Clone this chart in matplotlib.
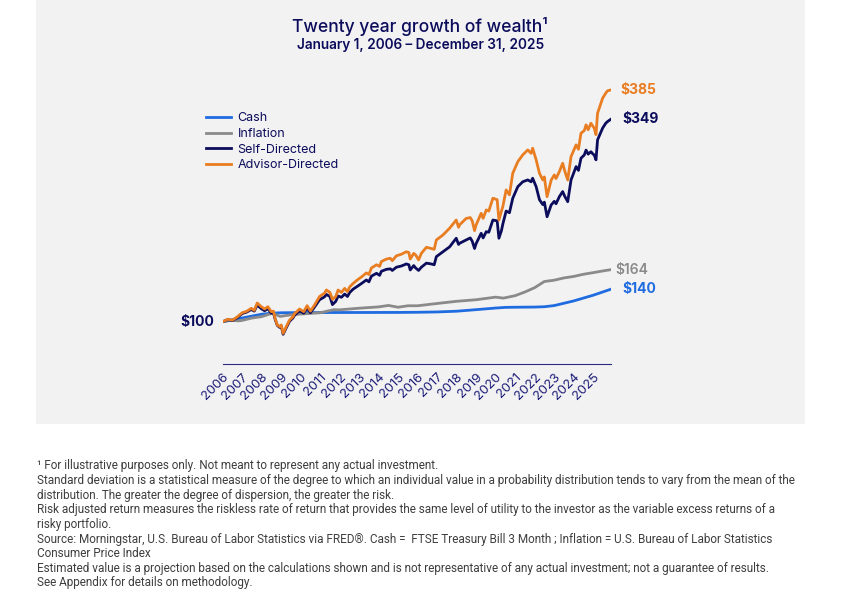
import matplotlib
matplotlib.use("Agg")
import matplotlib.pyplot as plt
from matplotlib.patches import Rectangle

# data (growth of $100, year as decimal)
risk_years = [2006.00, 2006.25, 2006.50, 2006.75, 2007.00, 2007.25, 2007.46, 2007.62, 2007.77, 2007.98,
              2008.15, 2008.32, 2008.49, 2008.60, 2008.69, 2008.80, 2008.92, 2009.00, 2009.10, 2009.26,
              2009.43, 2009.60, 2009.69, 2009.94, 2010.16, 2010.33, 2010.50, 2010.71, 2010.97, 2011.22,
              2011.32, 2011.50, 2011.63, 2011.80, 2011.92, 2012.09, 2012.26, 2012.40, 2012.52, 2012.69,
              2012.94, 2013.12, 2013.37, 2013.50, 2013.63, 2013.89, 2014.05, 2014.14, 2014.40, 2014.60,
              2014.70, 2014.91, 2015.17, 2015.42, 2015.55, 2015.62, 2015.80, 2015.90, 2016.05, 2016.19,
              2016.45, 2016.70, 2016.85, 2016.96, 2017.30, 2017.64, 2017.98, 2018.10, 2018.15, 2018.49,
              2018.70, 2018.80, 2018.92, 2019.00, 2019.26, 2019.36, 2019.52, 2019.65, 2019.86, 2020.08,
              2020.17, 2020.30, 2020.37, 2020.54, 2020.71, 2020.88, 2021.14, 2021.39, 2021.65, 2021.82,
              2021.90, 2022.08, 2022.25, 2022.42, 2022.50, 2022.64, 2022.85, 2023.01, 2023.10, 2023.27,
              2023.44, 2023.55, 2023.70, 2023.87, 2024.13, 2024.25, 2024.38, 2024.55, 2024.64, 2024.75,
              2024.89, 2025.00, 2025.06, 2025.15, 2025.23, 2025.49, 2025.65, 2025.74, 2025.92]
advisor = [100, 103, 102, 106, 111, 113, 116.5, 114, 123, 118.5,
           115.6, 118.5, 112.3, 113, 104, 96, 94, 96, 85.7, 94,
           102, 106, 110, 115.6, 112.3, 119.7, 113, 120.5, 131, 135,
           139, 136, 127.5, 131, 139, 136, 141, 137, 143, 147,
           152, 155, 160, 158, 166, 170, 168, 174, 177, 178,
           175, 181, 183, 186, 185, 177, 184, 182, 176, 184,
           191.5, 190, 189, 200.5, 206.6, 214.9, 225, 216, 219, 227,
           228, 224, 212, 219, 233.3, 227, 237.4, 236, 251.8, 250,
           225, 236, 241.4, 262, 256, 282.5, 296.8, 305, 311.2, 307,
           313.3, 299, 282.5, 274.3, 278, 253.7, 274, 280.4, 276, 284.5,
           294.8, 285, 274.3, 303, 317.4, 312, 331.7, 335, 342, 336,
           344, 340, 337.9, 330, 356.3, 374.8, 381, 383.8, 385]
self_directed = [100, 102.5, 101.5, 105, 110, 112, 115, 113, 120.5, 116,
                 113.5, 116, 110.5, 111, 103, 95.5, 93, 95, 84.5, 92.5,
                 100.5, 104.5, 108, 113.5, 110.5, 117, 111, 118, 127, 130.5,
                 133.5, 131, 121, 125, 131.6, 130, 134, 131, 136, 140,
                 144, 147, 151.3, 149, 156, 159.5, 157, 162, 164.4, 165,
                 163, 167, 168.5, 171, 170, 163.6, 169, 166, 163, 167,
                 172, 171, 170, 180, 186, 192, 202.6, 195, 196.4, 200.5,
                 203, 199, 190, 196, 208.7, 203, 210.7, 210, 225, 224,
                 202.6, 212, 220, 236, 234, 251.8, 266, 272, 274.3, 272,
                 276.4, 266, 250, 244, 247, 229, 243.5, 248, 245, 253.7,
                 260, 254, 247.6, 274.3, 290.7, 286, 301, 305, 311, 306,
                 309, 306, 305, 299, 323.5, 338, 344, 346, 349]

cash_years = [2006.0, 2007.0, 2008.0, 2008.5, 2009.0, 2010.0, 2012.0, 2015.0, 2016.0, 2017.0,
              2018.0, 2019.0, 2020.0, 2020.5, 2021.0, 2022.0, 2022.5, 2023.0, 2024.0, 2025.0, 2025.92]
cash = [100, 104.6, 109.2, 110.5, 111.0, 111.2, 111.3, 111.4, 111.6, 112.0,
        112.9, 114.8, 116.8, 117.6, 117.8, 118.0, 118.4, 119.8, 125.5, 132.5, 140]

infl_years = [2006.0, 2006.4, 2006.8, 2007.0, 2007.5, 2008.0, 2008.55, 2008.95, 2009.5, 2010.0,
              2011.0, 2011.7, 2012.0, 2013.0, 2014.0, 2014.5, 2015.0, 2015.5, 2016.0, 2017.0,
              2018.0, 2019.0, 2020.0, 2020.4, 2021.0, 2021.5, 2022.0, 2022.5, 2023.0, 2023.5,
              2024.0, 2024.5, 2025.0, 2025.5, 2025.92]
inflation = [100, 101.8, 101.0, 101.6, 104.5, 106.2, 110.5, 106.5, 108.5, 109.4,
             111.0, 114.8, 114.6, 116.6, 118.2, 120.0, 117.8, 119.6, 119.6, 122.4,
             125.1, 127.0, 130.2, 129.0, 132.0, 136.5, 141.8, 149.4, 151.0, 153.8,
             155.6, 158.3, 160.3, 162.4, 164]

year_ticks = list(range(2006, 2026))

navy = "#0c0c5c"
orange = "#e97d22"
blue = "#1f6be0"
gray = "#8a8a8a"

fig = plt.figure(figsize=(8.41, 6.16), dpi=100)
panel = Rectangle((36 / 841, 1 - 424 / 616), 769 / 841, 424 / 616,
                  transform=fig.transFigure, facecolor="#f2f2f2", edgecolor="none")
panel.set_zorder(-10)
fig.add_artist(panel)

fig.text(420 / 841, 1 - 26 / 616, "Twenty year growth of wealth\u00b9", ha="center", va="center",
         fontsize=12.6, color=navy, family="Inter", fontweight="medium")
fig.text(421 / 841, 1 - 45 / 616, "January 1, 2006 \u2013 December 31, 2025", ha="center", va="center",
         fontsize=9.8, color=navy, family="Inter", fontweight="semibold")

ax = fig.add_axes([222.7 / 841, 1 - 364 / 616, 388.3 / 841, 279 / 616])
ax.set_zorder(2)
ax.set_facecolor("none")
ax.plot(cash_years, cash, color=blue, lw=2, label="Cash")
ax.plot(infl_years, inflation, color=gray, lw=2, label="Inflation")
ax.plot(risk_years, self_directed, color=navy, lw=2, label="Self-Directed")
ax.plot(risk_years, advisor, color=orange, lw=2, label="Advisor-Directed")

ax.set_xlim(2006, 2025.92)
ax.set_ylim(48, 391)
for s in ["top", "right", "left"]:
    ax.spines[s].set_visible(False)
ax.spines["bottom"].set_color("#2b2b80")
ax.spines["bottom"].set_linewidth(0.8)
ax.set_yticks([])
ax.set_xticks(year_ticks)
ax.set_xticklabels([str(y) for y in year_ticks], rotation=45, ha="right",
                   rotation_mode="anchor", fontsize=9.4, color="#1c1c78", family="Inter")
ax.tick_params(axis="x", length=0, pad=5)

ends = [(advisor[-1], "$385", orange, 7, "bold"),
        (self_directed[-1], "$349", navy, 8, "bold"),
        (inflation[-1], "$164", gray, 3, "semibold"),
        (cash[-1], "$140", blue, 8, "bold")]
for val, txt, col, dx, wt in ends:
    ax.annotate(txt, xy=(risk_years[-1], val), xytext=(dx, 0), textcoords="offset points",
                ha="left", va="center", fontsize=10, color=col, fontweight=wt, family="Inter",
                annotation_clip=False)
ax.annotate("$100", xy=(2006, 100), xytext=(-6, 0), textcoords="offset points",
            ha="right", va="center", fontsize=10, color=navy, fontweight="bold", family="Inter",
            annotation_clip=False)

leg = ax.legend(loc="upper left", bbox_to_anchor=(195 / 841, 1 - 101 / 616),
                bbox_transform=fig.transFigure, frameon=False,
                handlelength=2.0, handletextpad=0.5, labelspacing=0.3,
                prop={"family": "Inter", "size": 9})
for t in leg.get_texts():
    t.set_color(navy)

notes = [
    "\u00b9 For illustrative purposes only. Not meant to represent any actual investment.",
    "Standard deviation is a statistical measure of the degree to which an individual value in a probability distribution tends to vary from the mean of the",
    "distribution. The greater the degree of dispersion, the greater the risk.",
    "Risk adjusted return measures the riskless rate of return that provides the same level of utility to the investor as the variable excess returns of a",
    "risky portfolio.",
    "Source: Morningstar, U.S. Bureau of Labor Statistics via FRED\u00ae. Cash =  FTSE Treasury Bill 3 Month ; Inflation = U.S. Bureau of Labor Statistics",
    "Consumer Price Index",
    "Estimated value is a projection based on the calculations shown and is not representative of any actual investment; not a guarantee of results.",
    "See Appendix for details on methodology.",
]
for i, line in enumerate(notes):
    fig.text(37 / 841, 1 - (466 + i * 14.6) / 616, line, ha="left", va="center",
             fontsize=8.46, color="#3e3e3e", family="Roboto")

fig.savefig("out.png", dpi=100)
